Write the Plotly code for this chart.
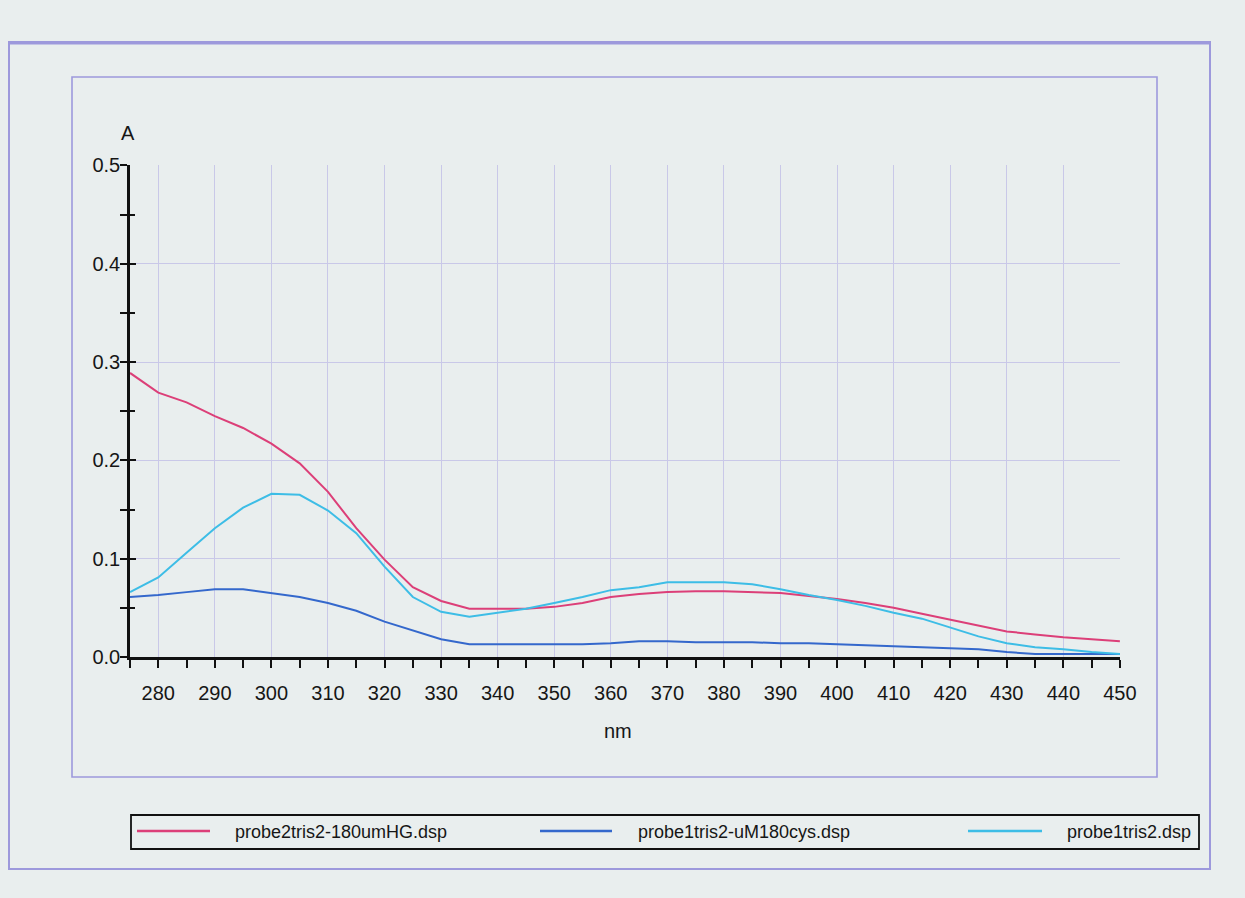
import plotly.graph_objects as go

# ---- data ----
wavelength = [275, 280, 285, 290, 295, 300, 305, 310, 315, 320, 325, 330, 335, 340, 345,
              350, 355, 360, 365, 370, 375, 380, 385, 390, 395, 400, 405, 410, 415, 420,
              425, 430, 435, 440, 445, 450]

hg_180um = [0.289, 0.269, 0.259, 0.245, 0.233, 0.217, 0.197, 0.168, 0.131, 0.099,
            0.071, 0.057, 0.049, 0.049, 0.049, 0.051, 0.055, 0.061, 0.064, 0.066,
            0.067, 0.067, 0.066, 0.065, 0.062, 0.059, 0.055, 0.050, 0.044, 0.038,
            0.032, 0.026, 0.023, 0.020, 0.018, 0.016]

cys_180um = [0.061, 0.063, 0.066, 0.069, 0.069, 0.065, 0.061, 0.055, 0.047, 0.036,
             0.027, 0.018, 0.013, 0.013, 0.013, 0.013, 0.013, 0.014, 0.016, 0.016,
             0.015, 0.015, 0.015, 0.014, 0.014, 0.013, 0.012, 0.011, 0.010, 0.009,
             0.008, 0.005, 0.003, 0.003, 0.003, 0.003]

probe_only = [0.066, 0.081, 0.106, 0.131, 0.152, 0.166, 0.165, 0.149, 0.126, 0.092,
              0.061, 0.046, 0.041, 0.045, 0.049, 0.055, 0.061, 0.068, 0.071, 0.076,
              0.076, 0.076, 0.074, 0.069, 0.063, 0.058, 0.052, 0.045, 0.039, 0.030,
              0.021, 0.014, 0.010, 0.008, 0.005, 0.003]

series_names = ["probe2tris2-180umHG.dsp", "probe1tris2-uM180cys.dsp", "probe1tris2.dsp"]
series_colors = ["#dc3f78", "#3468cc", "#3dbde6"]
series_values = [hg_180um, cys_180um, probe_only]

x_ticks = list(range(280, 451, 10))
y_ticks = [0.0, 0.1, 0.2, 0.3, 0.4, 0.5]

# ---- layout geometry (pixels) ----
W, H = 1245, 898
L, R = 130, 1120       # plot area left/right
T, B = 165, 657        # plot area top/bottom

def px(xp):
    return (xp - L) / (R - L)

def py(yp):
    return (B - yp) / (B - T)

BG = "#e9eeee"
FRAME = "#9d99dc"
GRID = "#c9c8e8"
FONT = "Liberation Sans, Arial, sans-serif"
TXT = "#161616"

fig = go.Figure()
for name, color, vals in zip(series_names, series_colors, series_values):
    fig.add_trace(go.Scatter(x=wavelength, y=vals, mode="lines", name=name,
                             line=dict(color=color, width=2), showlegend=False))

# empty trace to give an overlay y-axis for inside ticks
fig.add_trace(go.Scatter(x=[wavelength[0]], y=[0], yaxis="y2", mode="lines",
                         showlegend=False, hoverinfo="skip", line=dict(width=0)))

fig.update_layout(
    width=W, height=H,
    margin=dict(l=L, r=W - R, t=T, b=H - B, pad=0),
    paper_bgcolor=BG, plot_bgcolor=BG,
    font=dict(family=FONT, size=20, color=TXT),
    xaxis=dict(range=[275, 450.02], tickvals=x_ticks, showgrid=True, gridcolor=GRID,
               gridwidth=1, zeroline=False, showline=True, linecolor="#111", linewidth=2.5,
               ticks="outside", ticklen=8, tickwidth=2, tickcolor="#111",
               ticklabelstandoff=8,
               minor=dict(dtick=5, tick0=275, ticks="outside", ticklen=8, tickwidth=2,
                          tickcolor="#111", showgrid=False)),
    yaxis=dict(range=[0, 0.5005], tickvals=y_ticks, tickformat=".1f", showgrid=True,
               gridcolor=GRID, gridwidth=1, zeroline=False, showline=True, linecolor="#111",
               linewidth=2.5, ticks="outside", ticklen=7, tickwidth=2, tickcolor="#111",
               ticklabelstandoff=-4,
               minor=dict(dtick=0.05, tick0=0, ticks="outside", ticklen=7, tickwidth=2,
                          tickcolor="#111", showgrid=False)),
    yaxis2=dict(range=[0, 0.5005], overlaying="y", side="left", tickvals=y_ticks,
                showticklabels=False, showgrid=False, zeroline=False, showline=False,
                ticks="inside", ticklen=6, tickwidth=2, tickcolor="#111",
                minor=dict(dtick=0.05, tick0=0, ticks="inside", ticklen=5, tickwidth=2,
                           tickcolor="#111")),
)

shapes = []
# outer frame
shapes.append(dict(type="rect", xref="paper", yref="paper",
                   x0=px(9), x1=px(1210), y0=py(869), y1=py(42),
                   line=dict(color=FRAME, width=2), layer="below"))
shapes.append(dict(type="line", xref="paper", yref="paper",
                   x0=px(9), x1=px(1210), y0=py(43), y1=py(43),
                   line=dict(color=FRAME, width=3), layer="below"))
# inner frame
shapes.append(dict(type="rect", xref="paper", yref="paper",
                   x0=px(72), x1=px(1157), y0=py(777), y1=py(77),
                   line=dict(color=FRAME, width=1.6), layer="below"))
# legend box
shapes.append(dict(type="rect", xref="paper", yref="paper",
                   x0=px(131), x1=px(1199), y0=py(849), y1=py(815),
                   line=dict(color="#111", width=1.8)))

legend_line_x = [(137, 210), (540, 612), (968, 1042)]
legend_text_x = [233, 636, 1065]
annotations = []
for (a, b), tx, name, color in zip(legend_line_x, legend_text_x, series_names, series_colors):
    shapes.append(dict(type="line", xref="paper", yref="paper",
                       x0=px(a), x1=px(b), y0=py(831), y1=py(831),
                       line=dict(color=color, width=2.5)))
    annotations.append(dict(xref="paper", yref="paper", x=px(tx), y=py(832),
                            text=name, showarrow=False, xanchor="left", yanchor="middle",
                            font=dict(family=FONT, size=18, color=TXT)))

annotations.append(dict(xref="paper", yref="paper", x=px(128), y=py(133), text="A",
                        showarrow=False, xanchor="center", yanchor="middle",
                        font=dict(family=FONT, size=20, color=TXT)))
annotations.append(dict(xref="paper", yref="paper", x=px(618), y=py(731), text="nm",
                        showarrow=False, xanchor="center", yanchor="middle",
                        font=dict(family=FONT, size=20, color=TXT)))

fig.update_layout(shapes=shapes, annotations=annotations)
fig.write_html("out.html", config={"displayModeBar": False},
               post_script="document.body.style.margin='0';document.body.style.overflow='hidden';")
